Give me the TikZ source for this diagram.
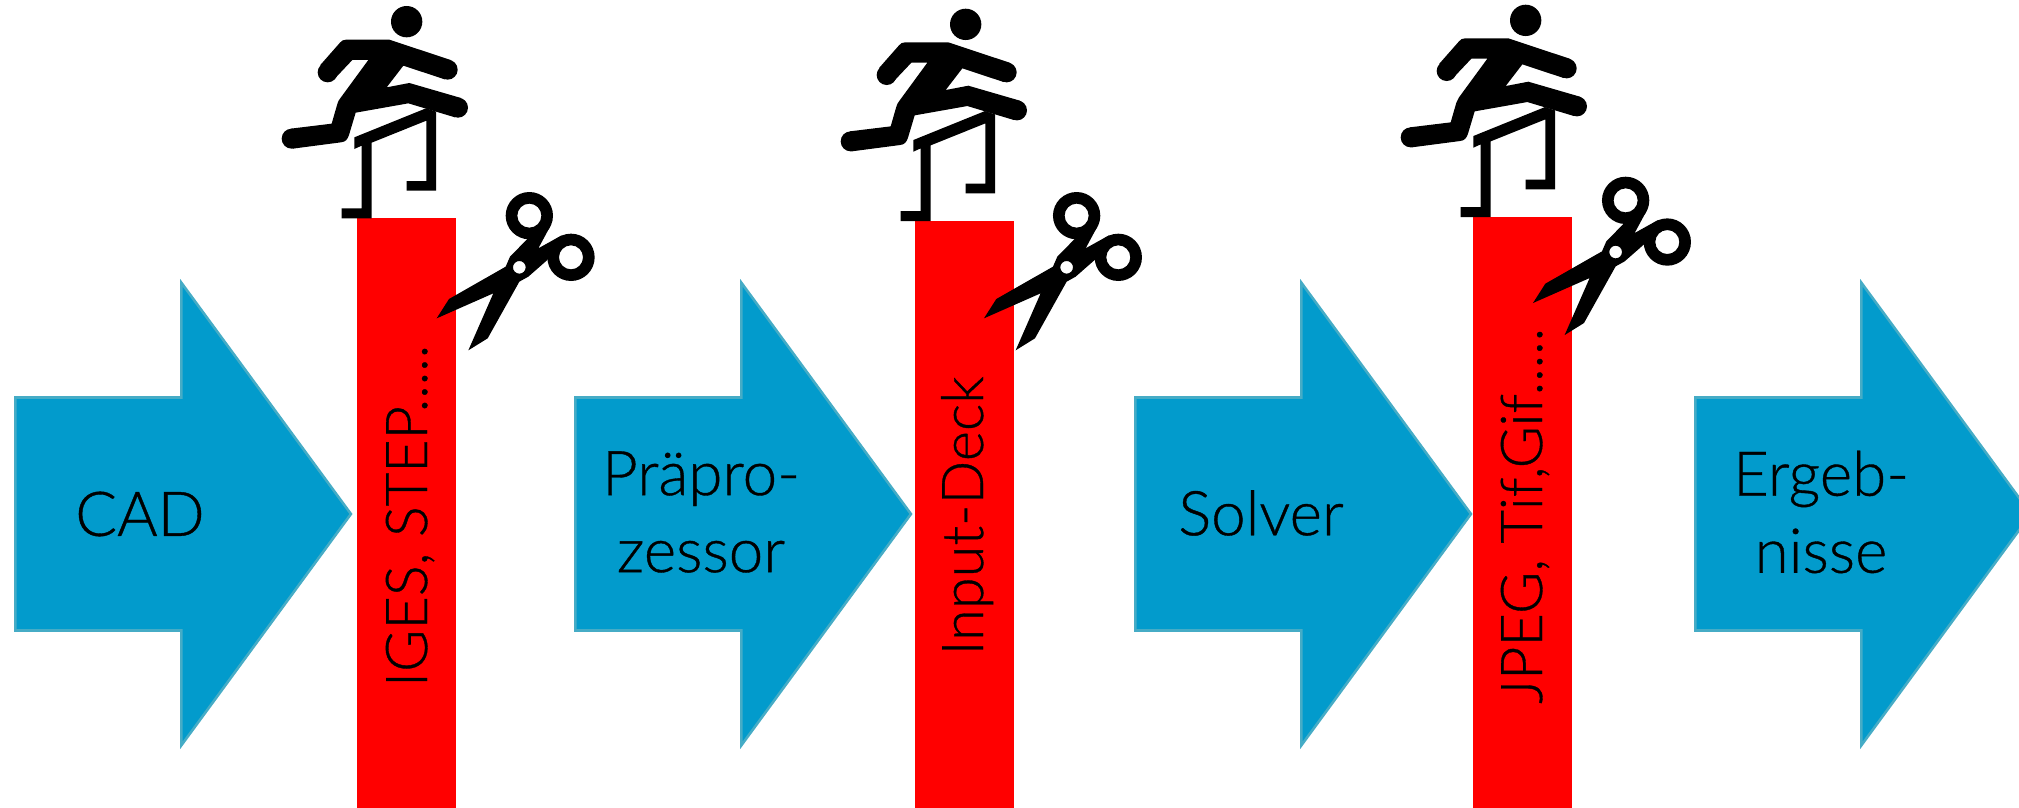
\documentclass[tikz,border=0pt]{standalone}
\usepackage{fontspec}
\setmainfont{Lato Light}[RawFeature={embolden=0.6}]
\usepackage{xcolor}
\usepackage{tikz}
\usetikzlibrary{shapes.arrows}
\definecolor{arrowblue}{RGB}{2, 155, 204}
\definecolor{arrowedge}{RGB}{70, 172, 198}
\definecolor{barred}{RGB}{255, 0, 0}
\tikzset{
  flowarrow/.style={single arrow, draw=arrowedge, fill=arrowblue, line width=1.8pt, inner xsep=0pt, inner ysep=2.88cm, anchor=tail,
    minimum height=8.39cm, single arrow head extend=2.87cm, single arrow tip angle=107.5},
  cutbar/.style={fill=barred, inner sep=0pt, anchor=north west, minimum width=2.475cm},
  flowlabel/.style={font=\fontsize{44}{54.8}\selectfont, align=center, inner sep=0pt},
  barlabel/.style={font=\fontsize{41}{54.8}\selectfont, rotate=90, anchor=base, inner sep=0pt},
  zoomgrid/.style={x=0.008333cm, y=-0.008333cm},
  pics/hurdler/.style={code={
    \begin{scope}[zoomgrid]
      \fill (440,65) circle[radius=47];
      \fill (258,119) -- (388,119) -- (572,180) -- (554,238) -- (430,197) -- (380,262) -- (448,249)
        -- (603,294) -- (585,352) -- (445,310) -- (287,338) -- (267,405) .. controls (263,418) and (256,426) .. (243,427) -- (98,446)
        -- (92,386) -- (215,371) -- (232,312) .. controls (234,305) and (236,301) .. (240,296) -- (325,180) -- (277,180) -- (225,235)
        -- (181,195) -- (240,128) .. controls (245,122) and (250,119) .. (258,119) -- cycle;
      \fill (563,209) circle[radius=30] (594,323) circle[radius=30] (95,416) circle[radius=30] (203,217) circle[radius=30];
      \fill (283,412) -- (498,325) -- (528,335) -- (528,572) -- (440,572) -- (440,543) -- (499,543) -- (499,362)
        -- (335,428) -- (335,655) -- (245,655) -- (245,625) -- (305,625) -- (305,437) -- (283,447) -- cycle;
    \end{scope}
  }},
  pics/shears/.style={code={
    \begin{scope}[zoomgrid]
      \fill[even odd rule] (808,647) circle[radius=71] (808,647) circle[radius=36];
      \fill[even odd rule] (933,772) circle[radius=71] (933,772) circle[radius=36];
      \fill[even odd rule] (870,680) -- (835,745) -- (905,706) -- (862,780) -- (805,830) -- (778,845) -- (683,1015)
        -- (625,1051) -- (700,880) -- (530,955) -- (567,897) -- (737,800) -- (750,770) -- (802,717) -- cycle
        (778,802) circle[radius=19];
    \end{scope}
  }}
}
\begin{document}
\begin{tikzpicture}[x=0.025cm, y=-0.025cm]
  \useasboundingbox (0,0) rectangle (2019,808);
  \node[flowarrow] (cad) at (14,514) {};
  \node[flowarrow] (prae) at (574,514) {};
  \node[flowarrow] (solver) at (1134,514) {};
  \node[flowarrow] (ergebnis) at (1694,514) {};
  \node[cutbar, minimum height=14.75cm] (igesbar) at (357,218) {};
  \node[cutbar, minimum height=14.675cm] (deckbar) at (915,221) {};
  \node[cutbar, minimum height=14.775cm] (jpegbar) at (1473,217) {};
  \pic at (260,0) {hurdler};
  \pic at (819,2.7) {hurdler};
  \pic at (1379,-1.3) {hurdler};
  \pic at (260,0) {shears};
  \pic at (807.3,0) {shears};
  \pic at (1356.3,-15.3) {shears};
  \node[flowlabel] (cadtext) at (140,514) {CAD};
  \node[flowlabel] (praetext) at (701,512) {Präpro-\\zessor};
  \node[flowlabel] (solvertext) at (1261,513) {Solver};
  \node[flowlabel] (ergebtext) at (1821,512) {Ergeb-\\nisse};
  \node[barlabel] (igestext) at (427,516) {IGES, STEP.....};
  \node[barlabel] (decktext) at (983,516) {Input-Deck};
  \node[barlabel] (jpegtext) at (1542,516) {JPEG, Tif,Gif.....};
\end{tikzpicture}
\end{document}
